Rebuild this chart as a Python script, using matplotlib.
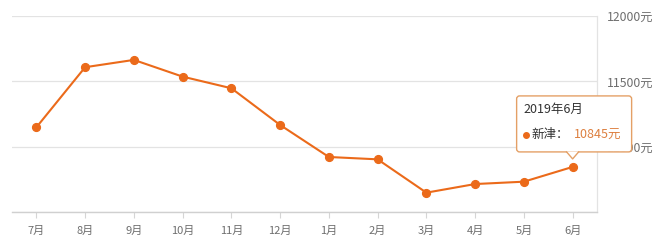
import matplotlib
matplotlib.use("Agg")
import matplotlib.pyplot as plt
from matplotlib.patches import FancyBboxPatch, Polygon
from matplotlib.transforms import IdentityTransform

plt.rcParams['font.family'] = ['Noto Sans CJK SC', 'DejaVu Sans']

months = ['7月', '8月', '9月', '10月', '11月', '12月', '1月', '2月', '3月', '4月', '5月', '6月']
prices = [11148, 11608, 11664, 11536, 11447, 11166, 10921, 10903, 10648, 10714, 10732, 10845]
yticks = [10500, 11000, 11500, 12000]
tip_title = '2019年6月'
tip_series = '新津：'
tip_value = '10845元'

line_color = '#eb6a1a'
grid_color = '#e3e3e3'
label_color = '#6e6e6e'

fig = plt.figure(figsize=(6.6, 2.48), dpi=100)
ax = fig.add_axes([12/660, 1-212/248, (597-12)/660, (212-16)/248])

x = list(range(len(months)))
ax.plot(x, prices, color=line_color, lw=1.5, marker='o', ms=5.6,
        markerfacecolor=line_color, markeredgecolor=line_color, zorder=3, clip_on=False)

ax.set_xlim(-0.5, len(months) - 0.5)
ax.set_ylim(10500, 12000)
ax.set_xticks(x)
ax.set_xticklabels(months)
ax.set_yticks(yticks)
ax.set_yticklabels(['' if v == 10500 else f'{v}元' for v in yticks])
ax.yaxis.tick_right()
ax.tick_params(axis='y', length=0, pad=7, labelsize=8.8, labelcolor=label_color)
ax.tick_params(axis='x', length=4, width=0.8, color='#d5d5d5', pad=6, labelsize=8, labelcolor=label_color)
ax.grid(axis='y', color=grid_color, lw=0.9)
ax.set_axisbelow(True)
for s in ['top', 'left']:
    ax.spines[s].set_visible(False)
ax.spines['right'].set_color(grid_color)
ax.spines['right'].set_linewidth(0.9)
ax.spines['bottom'].set_color('#d0d0d0')
ax.spines['bottom'].set_linewidth(1.0)

# tooltip anchored to last point
fig.canvas.draw()
px, py = ax.transData.transform((x[-1], prices[-1]))
bx0, bx1 = px - 56, px + 59
by0, by1 = py + 15, py + 71
box = FancyBboxPatch((bx0, by0), bx1 - bx0, by1 - by0,
                     boxstyle='round,pad=0,rounding_size=3',
                     transform=IdentityTransform(), facecolor='white',
                     edgecolor='#e4a066', lw=1.0, zorder=10, clip_on=False)
ax.add_artist(box)
tri = Polygon([(px - 6, by0 + 0.5), (px + 6, by0 + 0.5), (px, py + 8)], closed=True,
              transform=IdentityTransform(), facecolor='white', edgecolor='none',
              zorder=11, clip_on=False)
ax.add_artist(tri)
ax.plot([px - 6, px, px + 6], [by0, py + 8, by0], color='#e4a066', lw=1.0,
        transform=IdentityTransform(), zorder=12, clip_on=False)

ax.text(bx0 + 7, by1 - 14, tip_title, transform=IdentityTransform(), fontsize=9,
        color='#333333', va='center', ha='left', zorder=13, clip_on=False)
ax.plot([bx0 + 9], [by0 + 17], marker='o', ms=4, color=line_color,
        transform=IdentityTransform(), zorder=13, clip_on=False)
ax.text(bx0 + 15, by0 + 17, tip_series, transform=IdentityTransform(), fontsize=9,
        color='#333333', va='center', ha='left', zorder=13, clip_on=False)
ax.text(bx0 + 57, by0 + 17, tip_value, transform=IdentityTransform(), fontsize=9,
        color='#dd8040', va='center', ha='left', zorder=13, clip_on=False)

fig.savefig('out.png', dpi=100)
